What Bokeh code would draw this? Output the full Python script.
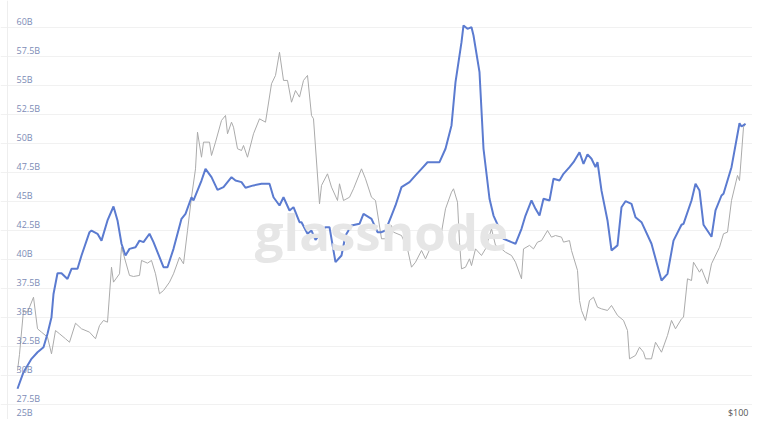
from bokeh.plotting import figure
from bokeh.models import Range1d, Label, Grid, FixedTicker, Span
from bokeh.embed import file_html
from bokeh.resources import INLINE

# ---- data (day index, value in billions) ----
blue_day = [0, 3, 7, 10, 13, 15, 17, 18, 20, 22, 25, 27, 30, 32, 36, 37, 40, 42, 45, 48, 50, 52, 54, 56,
            59, 61, 63, 66, 68, 71, 73, 75, 78, 82, 84, 87, 88, 92, 94, 97, 100, 103, 107, 109, 112, 114,
            118, 122, 126, 128, 131, 133, 136, 138, 141, 142, 145, 147, 149, 152, 154, 156, 159, 162, 164,
            167, 171, 173, 177, 180, 182, 184, 187, 189, 192, 196, 199, 202, 205, 211, 214, 217, 219, 222,
            223, 225, 227, 228, 231, 233, 236, 238, 241, 243, 247, 249, 252, 254, 257, 259, 261, 263, 266,
            268, 271, 273, 276, 278, 281, 283, 285, 287, 289, 290, 292, 295, 297, 300, 302, 304, 307, 309,
            312, 317, 322, 325, 328, 332, 333, 337, 339, 341, 343, 347, 349, 352, 353, 357, 361, 362, 364]
blue_val = [28.83, 30.26, 31.41, 31.98, 32.41, 33.57, 35.0, 37.0, 38.79, 38.79, 38.3, 39.17, 39.17, 40.32,
            42.33, 42.47, 42.19, 41.6, 43.34, 44.54, 43.34, 41.33, 40.32, 40.89, 41.03, 41.6, 41.47, 42.19,
            41.47, 40.18, 39.31, 39.31, 40.89, 43.48, 43.91, 45.34, 45.06, 46.78, 47.79, 47.07, 45.98, 46.21,
            47.07, 46.78, 46.64, 46.16, 46.36, 46.5, 46.5, 45.34, 44.63, 45.34, 44.2, 44.48, 43.19, 43.19,
            42.19, 42.47, 41.67, 42.33, 42.76, 42.76, 39.74, 40.32, 42.04, 42.9, 43.05, 43.91, 43.48, 42.33,
            42.33, 42.47, 43.76, 44.63, 46.21, 46.64, 47.22, 47.79, 48.36, 48.36, 49.52, 51.53, 55.26, 58.71,
            60.15, 59.86, 60.0, 59.28, 56.12, 49.52, 45.21, 43.76, 42.62, 41.76, 41.47, 41.33, 42.62, 43.76,
            45.06, 44.34, 43.76, 45.21, 45.06, 46.93, 46.78, 47.36, 47.93, 48.36, 49.22, 48.22, 49.03, 48.66,
            47.93, 48.36, 45.91, 43.34, 40.75, 41.19, 44.48, 45.0, 44.77, 43.62, 43.19, 41.33, 38.16, 38.74,
            41.6, 42.97, 43.05, 45.06, 46.5, 45.92, 42.97, 41.93, 44.2, 45.49, 45.64, 47.93, 51.72, 51.44, 51.67]

gray_day = [0, 1, 3, 5, 6, 8, 10, 12, 15, 17, 19, 21, 24, 26, 29, 32, 36, 39, 41, 43, 45, 47, 48, 51, 52,
            56, 58, 61, 62, 65, 67, 69, 71, 73, 76, 78, 81, 83, 85, 87, 89, 90, 92, 93, 96, 97, 99, 102,
            104, 105, 107, 108, 110, 112, 113, 115, 118, 121, 124, 127, 129, 131, 133, 135, 137, 139, 141,
            143, 145, 147, 148, 151, 152, 155, 157, 160, 161, 163, 166, 168, 172, 174, 177, 179, 182, 184,
            187, 188, 192, 195, 197, 199, 202, 204, 207, 209, 212, 214, 217, 218, 220, 221, 222, 224, 226,
            227, 229, 232, 234, 237, 239, 242, 244, 247, 249, 252, 253, 256, 258, 260, 262, 265, 267, 269,
            272, 273, 276, 277, 280, 281, 282, 284, 286, 288, 290, 292, 295, 297, 300, 303, 305, 306, 309,
            311, 313, 314, 317, 319, 322, 325, 327, 329, 332, 333, 335, 337, 338, 341, 342, 345, 347, 351,
            353, 355, 357, 360, 361, 363, 364]
gray_val = [30.4, 31.8, 35.6, 35.43, 35.86, 36.72, 34.0, 33.71, 33.28, 31.84, 33.85, 33.57, 33.14, 32.84,
            34.48, 34.0, 33.71, 33.14, 34.28, 34.72, 34.57, 39.31, 38.02, 38.74, 41.03, 38.6, 38.51, 38.6,
            39.89, 39.66, 39.89, 38.74, 37.02, 37.3, 38.02, 38.74, 40.17, 39.6, 42.47, 45.34, 47.79, 50.95,
            48.79, 50.09, 50.09, 48.94, 50.09, 51.96, 52.39, 50.81, 51.81, 51.38, 49.52, 49.37, 49.8, 48.79,
            50.81, 52.1, 51.81, 55.12, 55.84, 57.84, 55.41, 55.41, 53.53, 54.54, 53.97, 55.41, 55.84, 52.39,
            52.1, 44.77, 46.36, 47.36, 46.21, 45.06, 46.5, 45.06, 45.34, 46.07, 47.79, 46.93, 45.34, 45.06,
            41.76, 41.76, 42.9, 42.33, 42.04, 40.89, 39.31, 39.74, 40.75, 40.03, 41.19, 40.89, 42.33, 44.34,
            45.78, 46.07, 44.91, 41.47, 39.17, 39.31, 40.03, 39.45, 40.89, 40.32, 40.89, 42.62, 41.19, 40.89,
            40.6, 40.32, 39.74, 38.31, 40.89, 41.19, 40.89, 41.47, 41.6, 42.47, 41.9, 42.04, 41.9, 41.47,
            41.6, 40.75, 39.03, 36.44, 35.58, 34.72, 36.44, 36.72, 35.86, 35.72, 35.58, 36.01, 35.15, 34.72,
            33.85, 31.41, 31.7, 32.41, 31.98, 31.41, 31.41, 32.84, 31.98, 33.43, 34.72, 34.0, 34.86, 35.0,
            38.31, 38.16, 39.74, 38.88, 39.17, 37.88, 39.6, 41.03, 42.19, 42.33, 45.06, 47.22, 46.78, 51.38,
            51.67]

tick_vals = [25, 27.5, 30, 32.5, 35, 37.5, 40, 42.5, 45, 47.5, 50, 52.5, 55, 57.5, 60]
tick_labels = ["25B", "27.5B", "30B", "32.5B", "35B", "37.5B", "40B", "42.5B", "45B", "47.5B",
               "50B", "52.5B", "55B", "57.5B", "60B"]
right_label = "$100"
watermark = "glassnode"

W, H = 752, 419
p = figure(width=W, height=H, output_backend="svg", toolbar_location=None,
           x_axis_type=None, y_axis_type=None,
           x_range=Range1d(-8.5, 367.5), y_range=Range1d(26.18, 62.30),
           min_border=0, min_border_left=0, min_border_right=0,
           min_border_top=0, min_border_bottom=0)
p.outline_line_color = None
p.background_fill_color = "white"
p.border_fill_color = "white"

grid = Grid(dimension=1, ticker=FixedTicker(ticks=tick_vals),
            grid_line_color="#f1f1f1", grid_line_width=1)
p.add_layout(grid)

# card border on the left
p.add_layout(Span(location=-5, dimension="height", line_color="#eeeeee", line_width=1))

# watermark
p.add_layout(Label(x=182, y=42.4, text=watermark, text_align="center", text_baseline="alphabetic",
                   text_font="Open Sans", text_font_size="51px", text_font_style="bold",
                   text_color="#e6e6e6"))

p.line(gray_day, gray_val, line_color="#ababab", line_width=1)
p.line(blue_day, blue_val, line_color="#5b7bd0", line_width=2)

for v, t in zip(tick_vals, tick_labels):
    if v < p.y_range.start:
        lab = Label(x=p.x_range.start, y=p.y_range.start, x_offset=16, y_offset=1, text=t,
                    text_baseline="bottom")
    else:
        lab = Label(x=p.x_range.start, y=v, x_offset=16, y_offset=6, text=t, text_baseline="middle")
    lab.text_font = "Open Sans"
    lab.text_font_size = "9px"
    lab.text_color = "#7d8cb6"
    p.add_layout(lab)

p.add_layout(Label(x=p.x_range.end, y=p.y_range.start, x_offset=-4, y_offset=1, text=right_label,
                   text_align="right", text_baseline="bottom", text_font="Open Sans",
                   text_font_size="9px", text_color="#555555"))

open("out.html", "w").write(file_html(p, INLINE))
